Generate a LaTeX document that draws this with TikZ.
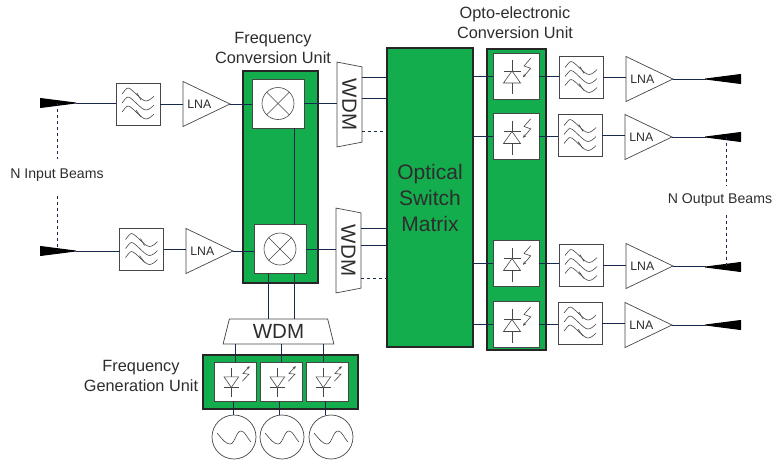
\documentclass[tikz,border=0pt]{standalone}
\usepackage{fontspec}
\setmainfont{Liberation Sans}
\usetikzlibrary{arrows.meta, positioning, shapes.geometric}
\definecolor{unitgreen}{RGB}{20,173,78}
\definecolor{linenavy}{RGB}{24,40,78}
\definecolor{textgray}{RGB}{45,45,45}
\definecolor{boxgray}{RGB}{70,70,70}
\tikzset{
    wire/.style={draw=linenavy, line width=0.8pt},
    dashwire/.style={wire, dash pattern=on 3pt off 3pt},
    unitbox/.style 2 args={draw=black!85, line width=1.8pt, fill=unitgreen, inner sep=0pt, outer sep=0pt, minimum width=#1, minimum height=#2},
    whitebox/.style 2 args={draw=boxgray, line width=0.7pt, fill=white, inner sep=0pt, outer sep=0pt, minimum width=#1, minimum height=#2},
    caption/.style={text=textgray, align=center, inner sep=0pt, font=\fontsize{16.3}{20}\selectfont},
    beamtext/.style={text=textgray, inner sep=0pt, font=\fontsize{14.1}{17}\selectfont},
    wdmbox/.style={trapezium, trapezium stretches=true, trapezium left angle=77, trapezium right angle=77, draw=boxgray, line width=0.7pt, fill=white, text=textgray, inner sep=0pt, outer sep=0pt, font=\fontsize{20.5}{22}\selectfont},
    lnabox/.style={isosceles triangle, isosceles triangle stretches, draw=boxgray, line width=0.7pt, fill=white, text=textgray, inner sep=0pt, outer sep=0pt, minimum width=45, minimum height=47, anchor=lower side, font=\fontsize{12.3}{14}\selectfont},
    hornin/.style={isosceles triangle, isosceles triangle stretches, draw=black, line width=1pt, line join=round, fill=black, inner sep=0pt, outer sep=0pt, minimum width=9, minimum height=35, anchor=lower side},
    hornout/.style={hornin, shape border rotate=180},
    filterbox/.style={whitebox={44}{42}, path picture={
        \begin{scope}[shift={(path picture bounding box.center)}, line width=0.6pt]
            \foreach \dy in {-9,0,9}
                \draw (-16,-1+\dy) .. controls (-14,-3+\dy) and (-12,-7+\dy) .. (-10,-7+\dy) .. controls (-6,-7+\dy) and (3,6+\dy) .. (8,6+\dy) .. controls (11,6+\dy) and (14,3+\dy) .. (16,1+\dy);
            \draw (-1,-11) -- (3,-4);
            \draw (-2,6) -- (3,13);
        \end{scope}}},
    mixerbox/.style={whitebox={52}{49}, path picture={
        \begin{scope}[shift={(path picture bounding box.center)}, line width=0.6pt]
            \draw (0,0) circle (16);
            \draw (-11.3,-11.3) -- (11.3,11.3);
            \draw (-11.3,11.3) -- (11.3,-11.3);
        \end{scope}}},
    pdbox/.style={whitebox={46}{46}, path picture={
        \begin{scope}[shift={(path picture bounding box.center)}, line width=0.6pt]
            \draw (-4,-16) -- (-4,18);
            \draw (-12.5,-5) -- (4.5,-5);
            \draw[fill=white] (-4,-5) -- (-12.5,7) -- (4.5,7) -- cycle;
            \draw[-{Stealth[length=3.5pt,width=3pt]}] (14.7,-17.7) -- (8,-10) -- (14.7,-7.7) -- (7,1.3);
        \end{scope}}},
    ldbox/.style={whitebox={42}{39}, path picture={
        \begin{scope}[shift={(path picture bounding box.center)}, line width=0.6pt]
            \draw (-3.7,-14) -- (-3.7,15);
            \draw (-11,6) -- (3.7,6);
            \draw[fill=white] (-3.7,6) -- (-11,-4.7) -- (3.7,-4.7) -- cycle;
            \draw[-{Stealth[length=3pt,width=3pt]}] (7.3,-0.3) -- (14,-7.3) -- (8,-8) -- (14.7,-15.3);
        \end{scope}}},
    oscnode/.style={circle, draw=boxgray, line width=0.7pt, fill=white, inner sep=0pt, outer sep=0pt, minimum size=44, path picture={
        \begin{scope}[shift={(path picture bounding box.center)}, line width=0.6pt]
            \draw (-17,-4) .. controls (-11,3) and (-8,7) .. (-4,7) .. controls (1,7) and (2,-6) .. (7,-6) .. controls (11,-6) and (13,1) .. (17,5);
        \end{scope}}}
}
\begin{document}
\begin{tikzpicture}[x=1pt, y=-1pt, >=Stealth]
    \useasboundingbox (0,0) rectangle (772,461);

    \node[unitbox={75}{212}] (fcu) at (280.5,177) {};
    \node[unitbox={86}{299}, text=textgray, align=center, font=\fontsize{21}{26}\selectfont] (osm) at (430,197.5) {Optical\\Switch\\Matrix};
    \node[unitbox={59}{301}] (ocu) at (516.5,199.5) {};
    \node[unitbox={155}{54}] (fgu) at (280.5,382) {};

    \node[hornin] (hornia) at (40.5,103) {};
    \node[hornin] (hornib) at (40.5,251) {};
    \node[filterbox] (filta) at (138,104) {};
    \node[filterbox] (filtb) at (141.5,249.5) {};
    \node[lnabox] (lnaa) at (183,104) {LNA};
    \node[lnabox] (lnab) at (186,251) {LNA};
    \node[mixerbox] (mixa) at (278,103.5) {};
    \node[mixerbox] (mixb) at (280,249) {};
    \node[wdmbox, rotate=-90, minimum width=85, minimum height=25] (wdma) at (349.5,104.5) {WDM};
    \node[wdmbox, rotate=-90, minimum width=85, minimum height=25] (wdmb) at (348.5,250.5) {WDM};
    \node[wdmbox, minimum width=111, minimum height=25] (wdmc) at (278.5,331.5) {WDM};

    \node[pdbox] (pda) at (516,76) {};
    \node[pdbox] (pdb) at (516,136.5) {};
    \node[pdbox] (pdc) at (516,263.5) {};
    \node[pdbox] (pdd) at (516,324.5) {};
    \node[filterbox] (filtc) at (581,77.5) {};
    \node[filterbox] (filtd) at (580,135.5) {};
    \node[filterbox] (filte) at (581,265.5) {};
    \node[filterbox] (filtf) at (580,323) {};
    \node[lnabox] (lnac) at (626,79) {LNA};
    \node[lnabox] (lnad) at (625,137) {LNA};
    \node[lnabox] (lnae) at (626,266) {LNA};
    \node[lnabox] (lnaf) at (625,325) {LNA};
    \node[hornout] (hornoa) at (740.5,79) {};
    \node[hornout] (hornob) at (740.5,137) {};
    \node[hornout] (hornoc) at (740.5,267) {};
    \node[hornout] (hornod) at (740.5,325) {};

    \node[ldbox] (lda) at (235,381.5) {};
    \node[ldbox] (ldb) at (281,381.5) {};
    \node[ldbox] (ldc) at (327,381.5) {};
    \node[oscnode] (osca) at (234,437) {};
    \node[oscnode] (oscb) at (282,437) {};
    \node[oscnode] (oscc) at (331,437) {};

    \node[caption] (fculabel) at (273,48) {Frequency\\Conversion Unit};
    \node[caption] (oculabel) at (515,23) {Opto-electronic\\Conversion Unit};
    \node[caption] (fgulabel) at (141,375.5) {Frequency\\Generation Unit};
    \node[beamtext] (inputlabel) at (57,175) {N Input Beams};
    \node[beamtext] (outputlabel) at (720,200) {N Output Beams};

    \draw[wire] (hornia.apex) -- (hornia.apex -| filta.west);
    \draw[wire] (hornib.apex) -- (hornib.apex -| filtb.west);
    \draw[wire] (filta.east) -- (filta.east -| lnaa.lower side);
    \draw[wire] (filtb.east) -- (filtb.east -| lnab.lower side);
    \draw[wire] (lnaa.apex) -- (lnaa.apex -| mixa.west);
    \draw[wire] (lnab.apex) -- (lnab.apex -| mixb.west);
    \draw[wire] (mixa.east) -- (mixa.east -| wdma.bottom side);
    \draw[wire] (mixb.east) -- (mixb.east -| wdmb.bottom side);
    \draw[wire] ([xshift=16]mixa.south) -- ([xshift=14]mixb.north);
    \draw[wire] ([xshift=14]mixb.south) -- ([xshift=14]mixb.south |- wdmc.top side);
    \draw[wire] ([xshift=-12]mixb.south) -- ([xshift=-12]mixb.south |- wdmc.top side);

    \foreach \ya in {77,98}
        \draw[wire] (wdma.top side |- 0,\ya) -- (osm.west |- 0,\ya);
    \draw[dashwire] (wdma.top side |- 0,131) -- (osm.west |- 0,131);
    \foreach \yb in {228,245}
        \draw[wire] (wdmb.top side |- 0,\yb) -- (osm.west |- 0,\yb);
    \draw[dashwire] (wdmb.top side |- 0,278) -- (osm.west |- 0,278);

    \foreach \pd/\filt/\lna/\horn in {pda/filtc/lnac/hornoa, pdb/filtd/lnad/hornob, pdc/filte/lnae/hornoc, pdd/filtf/lnaf/hornod} {
        \draw[wire] (\pd.west -| osm.east) -- (\pd.west);
        \draw[wire] (\pd.east) -- (\pd.east -| \filt.west);
        \draw[wire] (\filt.east) -- (\filt.east -| \lna.lower side);
        \draw[wire] (\lna.apex) -- (\lna.apex -| \horn.apex);
    }

    \draw[wire] (lda.north |- wdmc.bottom side) -- (lda.north);
    \draw[wire] (ldb.north |- wdmc.bottom side) -- (ldb.north);
    \draw[wire] ([xshift=-4]ldc.north |- wdmc.bottom side) -- ([xshift=-4]ldc.north);
    \draw[wire] ([xshift=-2]lda.south) -- ([xshift=-2]lda.south |- osca.north);
    \draw[wire] ([xshift=-2]ldb.south) -- ([xshift=-2]ldb.south |- oscb.north);
    \draw[wire] ([xshift=-2]ldc.south) -- ([xshift=-2]ldc.south |- oscc.north);

    \draw[dashwire] (inputlabel.north |- hornia.center) -- ([yshift=9pt]inputlabel.north);
    \draw[dashwire] ([yshift=-14pt]inputlabel.south) -- (inputlabel.south |- hornib.center);
    \draw[dashwire] ([xshift=6pt]outputlabel.north |- hornob.center) -- ([xshift=6pt,yshift=7pt]outputlabel.north);
    \draw[dashwire] ([xshift=6pt,yshift=-8pt]outputlabel.south) -- ([xshift=6pt]outputlabel.south |- hornoc.center);
\end{tikzpicture}
\end{document}
